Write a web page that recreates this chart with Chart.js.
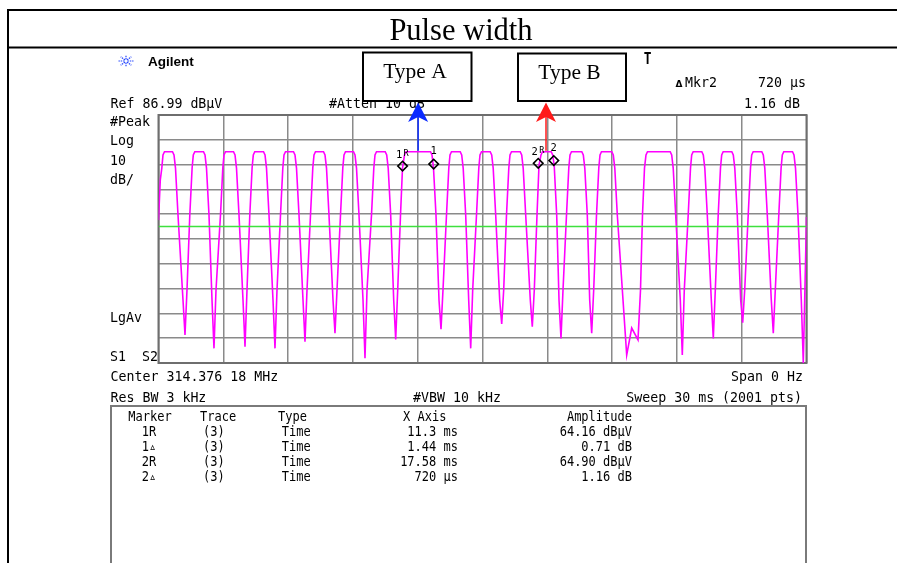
<!DOCTYPE html>
<html>
<head>
<meta charset="utf-8">
<script src="https://cdn.jsdelivr.net/npm/chart.js@4.4.1/dist/chart.umd.min.js"></script>
<style>
  html, body { margin: 0; padding: 0; background: #fff; }
  #wrap { position: relative; width: 897px; height: 563px; overflow: hidden; }
</style>
</head>
<body>
<div id="wrap"><canvas id="myChart" width="897" height="563"></canvas></div>
<script>
// sweep 0..30 ms, ref level 86.99 dBuV, 10 dB/div
const xTicks = [0, 3, 6, 9, 12, 15, 18, 21, 24, 27, 30];
const yTicks = [-13.01, -3.01, 6.99, 16.99, 26.99, 36.99, 46.99, 56.99, 66.99, 76.99, 86.99];
const displayLine = 42.0;
const pulseTop = 72.2;

// trace (ms, dBuV)
const traceTime = [
  0, 0.083, 0.153, 0.208, 0.278, 0.648, 0.718, 0.787, 0.903, 1.134, 1.227,
  1.319, 1.449, 1.556, 1.611, 1.681, 2.083, 2.153, 2.222, 2.338, 2.477, 2.569,
  2.662, 2.870, 2.977, 3.032, 3.102, 3.472, 3.542, 3.611, 3.727, 3.912, 4.005,
  4.097, 4.227, 4.333, 4.389, 4.458, 4.861, 4.931, 5.000, 5.116, 5.301, 5.393,
  5.486, 5.648, 5.755, 5.810, 5.880, 6.250, 6.319, 6.389, 6.505, 6.690, 6.782,
  6.875, 7.037, 7.143, 7.199, 7.268, 7.639, 7.708, 7.778, 7.893, 8.079, 8.171,
  8.264, 8.426, 8.532, 8.588, 8.657, 9.028, 9.097, 9.167, 9.282, 9.468, 9.560,
  9.653, 9.861, 9.968, 10.023, 10.093, 10.495, 10.565, 10.634, 10.750, 10.889, 10.981,
  11.074, 11.204, 11.296, 11.389, 11.458, 12.593, 12.662, 12.731, 12.847, 12.986, 13.079,
  13.171, 13.333, 13.440, 13.495, 13.565, 13.968, 14.037, 14.106, 14.222, 14.361, 14.454,
  14.546, 14.722, 14.829, 14.884, 14.954, 15.356, 15.426, 15.495, 15.611, 15.796, 15.889,
  15.981, 16.111, 16.218, 16.273, 16.343, 16.745, 16.815, 16.884, 17.000, 17.213, 17.305,
  17.398, 17.523, 17.616, 17.708, 17.778, 18.180, 18.250, 18.319, 18.435, 18.542, 18.634,
  18.727, 18.889, 18.995, 19.051, 19.120, 19.597, 19.667, 19.736, 19.852, 19.963, 20.055,
  20.148, 20.278, 20.384, 20.440, 20.509, 20.986, 21.055, 21.125, 21.241, 21.505, 21.676, 21.907, 22.199,
  22.315, 22.407, 22.500, 22.569, 22.639, 23.690, 23.759, 23.829, 23.944, 24.157, 24.250,
  24.342, 24.523, 24.630, 24.685, 24.754, 25.153, 25.222, 25.292, 25.407, 25.593, 25.685,
  25.778, 25.912, 26.018, 26.074, 26.143, 26.542, 26.611, 26.680, 26.796, 26.953, 27.046,
  27.139, 27.301, 27.407, 27.463, 27.532, 27.930, 28.000, 28.069, 28.185, 28.370, 28.463,
  28.555, 28.717, 28.824, 28.880, 28.949, 29.352, 29.421, 29.491, 29.606, 29.759, 29.852,
  30.0
];
const traceLevel = [
  44.6, 60.8, 65.6, 70.9, 72.2, 72.2, 70.9, 65.6, 46.7, 12.4, -1.7,
  16.4, 46.7, 65.6, 70.9, 72.2, 72.2, 70.9, 65.6, 46.7, 12.4, -7.1,
  16.4, 46.7, 65.6, 70.9, 72.2, 72.2, 70.9, 65.6, 46.7, 12.4, -6.4,
  16.4, 46.7, 65.6, 70.9, 72.2, 72.2, 70.9, 65.6, 46.7, 12.4, -7.1,
  16.4, 46.7, 65.6, 70.9, 72.2, 72.2, 70.9, 65.6, 46.7, 12.4, -4.4,
  16.4, 46.7, 65.6, 70.9, 72.2, 72.2, 70.9, 65.6, 46.7, 12.4, -1.0,
  16.4, 46.7, 65.6, 70.9, 72.2, 72.2, 70.9, 65.6, 46.7, 12.4, -11.1,
  16.4, 46.7, 65.6, 70.9, 72.2, 72.2, 70.9, 65.6, 46.7, 12.4, -3.5,
  16.4, 46.7, 65.6, 70.9, 72.2, 72.2, 70.9, 65.6, 46.7, 12.4, 0.6,
  16.4, 46.7, 65.6, 70.9, 72.2, 72.2, 70.9, 65.6, 46.7, 12.4, -7.1,
  16.4, 46.7, 65.6, 70.9, 72.2, 72.2, 70.9, 65.6, 46.7, 12.4, 2.7,
  16.4, 46.7, 65.6, 70.9, 72.2, 72.2, 70.9, 65.6, 46.7, 12.4, 1.6,
  16.4, 46.7, 66.8, 70.9, 72.2, 72.2, 70.9, 66.8, 46.7, 12.4, -3.1,
  16.4, 46.7, 65.6, 70.9, 72.2, 72.2, 70.9, 65.6, 46.7, 12.4, -1.0,
  16.4, 46.7, 65.6, 70.9, 72.2, 72.2, 70.9, 65.6, 46.7, 12.4, -9.8, 1.1, -3.7,
  16.4, 46.7, 65.6, 70.9, 72.2, 72.2, 70.9, 65.6, 46.7, 12.4, -9.8,
  16.4, 46.7, 65.6, 70.9, 72.2, 72.2, 70.9, 65.6, 46.7, 12.4, -3.1,
  16.4, 46.7, 65.6, 70.9, 72.2, 72.2, 70.9, 65.6, 46.7, 12.4, 3.2,
  16.4, 46.7, 65.6, 70.9, 72.2, 72.2, 70.9, 65.6, 46.7, 12.4, -1.0,
  16.4, 46.7, 65.6, 70.9, 72.2, 72.2, 70.9, 65.6, 46.7, 12.4, -13.0,
  45.9
];

// markers on the trace
const markerNames = ["1", "1", "2", "2"];
const markerRef = [true, false, true, false];
const markerTime = [11.3, 12.74, 17.58, 18.30];
const markerLevel = [66.4, 67.2, 67.5, 68.6];

// arrows from the Type A / Type B boxes
const arrowTime = [12.02, 17.94];
const arrowColors = ["#0a2aff", "#ff1a1a"];
const boxLabels = ["Type A", "Type B"];

// marker table
const tableMarker = ["1R", "1\u25B5", "2R", "2\u25B5"];
const tableTrace = ["(3)", "(3)", "(3)", "(3)"];
const tableType = ["Time", "Time", "Time", "Time"];
const tableXAxis = ["11.3 ms", "1.44 ms", "17.58 ms", "720 \u00B5s"];
const tableAmp = ["64.16 dB\u00B5V", "0.71 dB", "64.90 dB\u00B5V", "1.16 dB"];

const tracePoints = traceTime.map((t, i) => ({ x: t, y: traceLevel[i] }));
const markerPoints = markerTime.map((t, i) => ({ x: t, y: markerLevel[i] }));

// instrument font, a bit condensed
function mono(ctx, str, x, y, align, size, sx, weight) {
  ctx.save();
  ctx.font = (weight || "") + " " + size + 'px "DejaVu Sans Mono"';
  ctx.textAlign = align;
  ctx.textBaseline = "alphabetic";
  ctx.translate(x, y);
  ctx.scale(sx, 1);
  ctx.fillText(str, 0, 0);
  ctx.restore();
}

const plotBorder = {
  id: "plotBorder",
  beforeDatasetsDraw(chart) {
    const { ctx, chartArea: { left, top, width, height } } = chart;
    ctx.save();
    ctx.strokeStyle = "#6e6e6e";
    ctx.lineWidth = 2;
    ctx.strokeRect(left, top, width, height);
    ctx.restore();
  }
};

const markerLabels = {
  id: "markerLabels",
  afterDatasetsDraw(chart) {
    const { ctx, scales: { x, y } } = chart;
    ctx.save();
    ctx.fillStyle = "#000";
    markerNames.forEach((name, i) => {
      const px = x.getPixelForValue(markerTime[i]);
      const py = y.getPixelForValue(markerLevel[i]) - 8.5;
      if (markerRef[i]) {
        mono(ctx, name, px - 3.5, py, "center", 10.5, 1);
        mono(ctx, "R", px + 3.5, py - 1.5, "center", 8.5, 1);
      } else {
        mono(ctx, name, px, py - 1.5, "center", 10.5, 1);
      }
    });
    ctx.restore();
  }
};

const screen = {
  id: "screen",
  afterDraw(chart) {
    const { ctx, scales: { x, y } } = chart;
    ctx.save();

    // page table lines
    ctx.strokeStyle = "#000";
    ctx.lineWidth = 2;
    ctx.beginPath();
    ctx.moveTo(7, 10); ctx.lineTo(897, 10);
    ctx.moveTo(7, 47.5); ctx.lineTo(897, 47.5);
    ctx.moveTo(8, 9); ctx.lineTo(8, 563);
    ctx.stroke();

    ctx.fillStyle = "#000";
    ctx.font = '30.5px "Liberation Serif"';
    ctx.textAlign = "center";
    ctx.fillText("Pulse width", 461, 40);

    // agilent logo
    ctx.strokeStyle = "#2244ff";
    ctx.lineWidth = 1.2;
    ctx.setLineDash([1.5, 0.8]);
    for (let k = 0; k < 8; k++) {
      const a = k * Math.PI / 4;
      ctx.beginPath();
      ctx.moveTo(126 + Math.cos(a) * 1.5, 61 + Math.sin(a) * 1.5);
      ctx.lineTo(126 + Math.cos(a) * 7.5, 61 + Math.sin(a) * 6);
      ctx.stroke();
    }
    ctx.setLineDash([]);
    ctx.font = 'bold 13.5px "Liberation Sans"';
    ctx.textAlign = "left";
    ctx.fillText("Agilent", 148, 65.5);

    // screen annotations
    const m = 14.5, sx = 0.915;
    mono(ctx, "Ref 86.99 dB\u00B5V", 110.5, 108, "left", m, sx);
    mono(ctx, "#Atten 10 dB", 329, 107.5, "left", m, sx);
    mono(ctx, "#Peak", 110, 126, "left", m, sx);
    mono(ctx, "Log", 110, 145, "left", m, sx);
    mono(ctx, "10", 110, 165, "left", m, sx);
    mono(ctx, "dB/", 110, 184, "left", m, sx);
    mono(ctx, "LgAv", 110, 322, "left", m, sx);
    mono(ctx, "S1  S2", 110, 361, "left", m, sx);
    mono(ctx, "Center 314.376 18 MHz", 110.5, 381, "left", m, sx);
    mono(ctx, "Span 0 Hz", 803, 381, "right", m, sx);
    mono(ctx, "Res BW 3 kHz", 110.5, 402, "left", m, sx);
    mono(ctx, "#VBW 10 kHz", 413, 402, "left", m, sx);
    mono(ctx, "Sweep 30 ms (2001 pts)", 802, 402, "right", m, sx);
    mono(ctx, "Mkr2", 685, 87, "left", m, sx);
    mono(ctx, "720 \u00B5s", 806, 87, "right", m, sx);
    mono(ctx, "1.16 dB", 800, 108, "right", m, sx);
    ctx.font = 'bold 9px "DejaVu Sans"';
    ctx.textAlign = "left";
    ctx.fillText("\u0394", 675.5, 87);
    mono(ctx, "T", 647.5, 63.5, "center", 16, 0.8, "bold");

    // marker table
    ctx.strokeStyle = "#7a7a7a";
    ctx.lineWidth = 2;
    ctx.strokeRect(111, 406, 695, 200);
    const t = 13.5, tx = 0.89;
    mono(ctx, "Marker", 128.3, 420.5, "left", t, tx);
    mono(ctx, "Trace", 200, 420.5, "left", t, tx);
    mono(ctx, "Type", 278, 420.5, "left", t, tx);
    mono(ctx, "X Axis", 403, 420.5, "left", t, tx);
    mono(ctx, "Amplitude", 632, 420.5, "right", t, tx);
    tableMarker.forEach((mk, i) => {
      const by = 435.5 + i * 15;
      mono(ctx, mk, 141.7, by, "left", t, tx);
      mono(ctx, tableTrace[i], 203, by, "left", t, tx);
      mono(ctx, tableType[i], 281.7, by, "left", t, tx);
      mono(ctx, tableXAxis[i], 458, by, "right", t, tx);
      mono(ctx, tableAmp[i], 632, by, "right", t, tx);
    });

    // arrows
    arrowTime.forEach((tm, i) => {
      const px = x.getPixelForValue(tm);
      ctx.strokeStyle = arrowColors[i];
      ctx.fillStyle = arrowColors[i];
      ctx.lineWidth = 1.5;
      ctx.beginPath();
      ctx.moveTo(px, y.getPixelForValue(pulseTop) - 1);
      ctx.lineTo(px, 117);
      ctx.stroke();
      ctx.beginPath();
      ctx.moveTo(px, 102.5);
      ctx.lineTo(px + 10, 122);
      ctx.lineTo(px, 117);
      ctx.lineTo(px - 10, 122);
      ctx.closePath();
      ctx.fill();
    });

    // Type A / Type B boxes
    const boxes = [[363, 52.5, 108.5, 48.5, 415, 78], [518, 53.5, 108, 47.5, 569.5, 79.3]];
    boxes.forEach((b, i) => {
      ctx.fillStyle = "#fff";
      ctx.fillRect(b[0], b[1], b[2], b[3]);
      ctx.strokeStyle = "#000";
      ctx.lineWidth = 2;
      ctx.strokeRect(b[0], b[1], b[2], b[3]);
      ctx.fillStyle = "#000";
      ctx.font = '21.5px "Liberation Serif"';
      ctx.textAlign = "center";
      ctx.fillText(boxLabels[i], b[4], b[5]);
    });

    ctx.restore();
  }
};

const config = {
  type: "scatter",
  data: {
    datasets: [
      {
        label: "Display line",
        data: [{ x: 0, y: displayLine }, { x: 30, y: displayLine }],
        showLine: true,
        borderColor: "#3ee03e",
        borderWidth: 1.5,
        pointRadius: 0,
        order: 1
      },
      {
        label: "Trace 3",
        data: tracePoints,
        showLine: true,
        borderColor: "#ff00ff",
        borderWidth: 1.6,
        pointRadius: 0,
        tension: 0,
        order: 2
      },
      {
        label: "Markers",
        data: markerPoints,
        showLine: false,
        pointStyle: "rectRot",
        pointRadius: 4.8,
        borderColor: "#000",
        borderWidth: 1.6,
        backgroundColor: "rgba(0,0,0,0)",
        order: 0
      }
    ]
  },
  options: {
    responsive: false,
    animation: false,
    devicePixelRatio: 1,
    layout: { padding: { left: 158.5, top: 115, right: 90.5, bottom: 200 } },
    plugins: { legend: { display: false }, tooltip: { enabled: false } },
    scales: {
      x: {
        type: "linear",
        min: 0,
        max: 30,
        afterBuildTicks: (scale) => { scale.ticks = xTicks.map(v => ({ value: v })); },
        ticks: { display: false },
        grid: { color: "#8a8a8a", lineWidth: 1.5, drawTicks: false },
        border: { display: false }
      },
      y: {
        type: "linear",
        min: -13.01,
        max: 86.99,
        afterBuildTicks: (scale) => { scale.ticks = yTicks.map(v => ({ value: v })); },
        ticks: { display: false },
        grid: { color: "#8a8a8a", lineWidth: 1.5, drawTicks: false },
        border: { display: false }
      }
    }
  },
  plugins: [plotBorder, markerLabels, screen]
};

const myChart = new Chart(document.getElementById("myChart"), config);
</script>
</body>
</html>
